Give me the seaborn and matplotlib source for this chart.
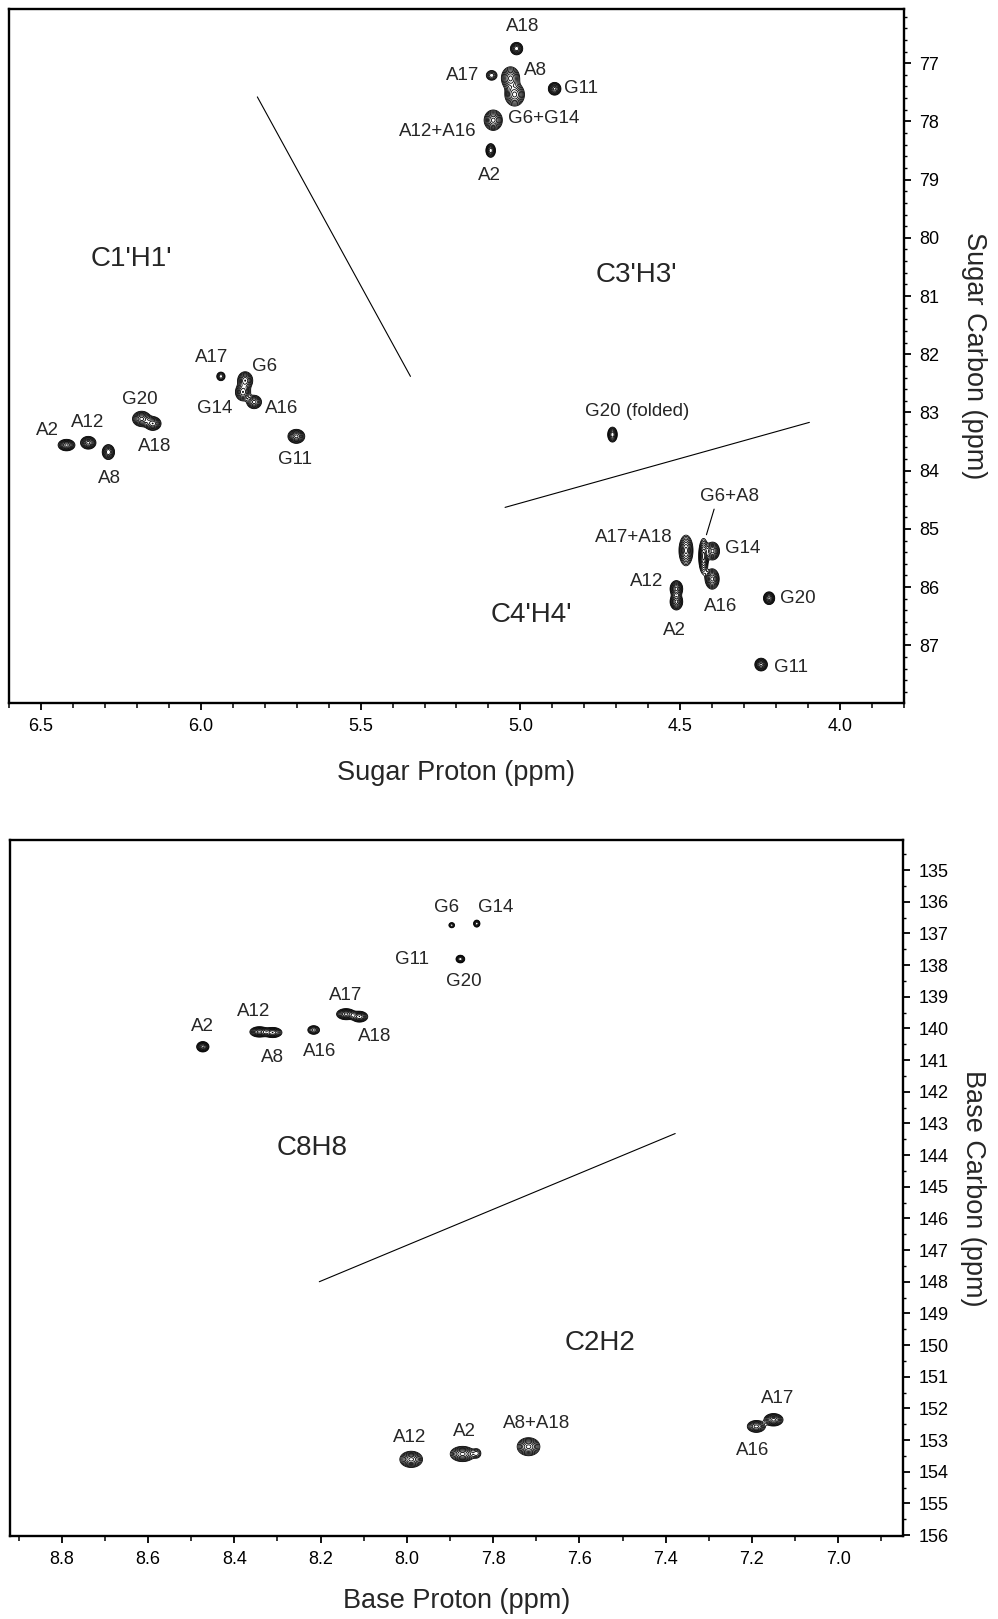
import numpy as np
import matplotlib
matplotlib.use("Agg")
import matplotlib.pyplot as plt
import seaborn as sns
from matplotlib.ticker import MultipleLocator, FormatStrFormatter

# ---------------- Sugar region (top panel) ----------------
sugar_peak_h = [6.420, 6.352, 6.289, 6.185, 6.150, 5.937, 5.861, 5.868, 5.833, 5.701,
                5.012, 5.090, 5.031, 5.018, 4.893, 5.085, 5.093,
                4.712, 4.247, 4.222, 4.512, 4.512, 4.482, 4.427, 4.399, 4.400]
sugar_peak_c = [83.56, 83.52, 83.68, 83.11, 83.19, 82.38, 82.45, 82.65, 82.82, 83.41,
                76.75, 77.21, 77.26, 77.54, 77.44, 77.98, 78.50,
                83.38, 87.33, 86.19, 86.03, 86.25, 85.37, 85.47, 85.38, 85.86]
sugar_peak_amp = [1.0, 1.0, 0.9, 1.0, 0.9, 0.5, 0.9, 0.9, 0.8, 1.0,
                  0.9, 0.5, 1.0, 1.0, 1.0, 1.0, 0.9,
                  0.9, 1.0, 1.0, 1.0, 1.0, 1.0, 1.0, 1.0, 1.0]
sugar_peak_wh = [0.012, 0.011, 0.009, 0.013, 0.012, 0.007, 0.011, 0.011, 0.011, 0.012,
                 0.009, 0.009, 0.013, 0.014, 0.009, 0.013, 0.007,
                 0.007, 0.009, 0.008, 0.009, 0.009, 0.010, 0.007, 0.010, 0.010]
sugar_peak_wc = [0.045, 0.050, 0.060, 0.060, 0.055, 0.040, 0.070, 0.070, 0.055, 0.055,
                 0.050, 0.045, 0.090, 0.090, 0.050, 0.080, 0.055,
                 0.060, 0.050, 0.050, 0.065, 0.065, 0.120, 0.140, 0.070, 0.080]

sugar_labels = ["A2", "A12", "A8", "G20", "A18", "A17", "G6", "G14", "A16", "G11",
                "A18", "A17", "A8", "G11", "G6+G14", "A12+A16", "A2",
                "G20 (folded)", "G6+A8", "A17+A18", "G14", "A12", "A16", "A2", "G20", "G11"]
sugar_label_h = [6.480, 6.355, 6.286, 6.190, 6.143, 5.965, 5.800, 5.955, 5.746, 5.704,
                 4.994, 5.182, 4.952, 4.811, 4.926, 5.260, 5.096,
                 4.634, 4.347, 4.644, 4.305, 4.605, 4.375, 4.519, 4.133, 4.153]
sugar_label_c = [83.31, 83.17, 84.13, 82.77, 83.59, 82.06, 82.21, 82.94, 82.94, 83.81,
                 76.37, 77.22, 77.12, 77.44, 77.95, 78.17, 78.93,
                 82.98, 84.45, 85.14, 85.34, 85.91, 86.34, 86.75, 86.19, 87.38]

sugar_regions = ["C1'H1'", "C3'H3'", "C4'H4'"]
sugar_region_h = [6.218, 4.636, 4.965]
sugar_region_c = [80.36, 80.64, 86.48]

sugar_div1_h = [5.823, 5.344]
sugar_div1_c = [77.58, 82.38]
sugar_div2_h = [5.048, 4.096]
sugar_div2_c = [84.63, 83.17]
sugar_leader_h = [4.394, 4.418]
sugar_leader_c = [84.66, 85.10]

# ---------------- Base region (bottom panel) ----------------
base_peak_h = [8.473, 8.342, 8.311, 8.216, 8.141, 8.110, 7.896, 7.838, 7.876,
               7.990, 7.871, 7.838, 7.718, 7.150, 7.190]
base_peak_c = [140.58, 140.11, 140.13, 140.05, 139.55, 139.63, 136.74, 136.69, 137.81,
               153.61, 153.44, 153.42, 153.21, 152.36, 152.57]
base_peak_amp = [1.0, 1.0, 0.9, 0.6, 1.0, 0.9, 0.35, 0.5, 0.7,
                 1.0, 1.0, 0.3, 1.0, 1.0, 0.8]
base_peak_wh = [0.0065, 0.010, 0.010, 0.007, 0.010, 0.009, 0.004, 0.004, 0.005,
                0.012, 0.013, 0.006, 0.012, 0.010, 0.010]
base_peak_wc = [0.075, 0.075, 0.075, 0.070, 0.080, 0.080, 0.050, 0.060, 0.060,
                0.117, 0.110, 0.090, 0.130, 0.090, 0.090]

base_labels = ["A2", "A12", "A8", "A16", "A17", "A18", "G6", "G14", "G11", "G20",
               "A12", "A2", "A8+A18", "A17", "A16"]
base_label_h = [8.473, 8.356, 8.311, 8.203, 8.143, 8.075, 7.907, 7.795, 7.989, 7.869,
                7.994, 7.867, 7.700, 7.141, 7.198]
base_label_c = [139.95, 139.48, 140.93, 140.74, 138.95, 140.27, 136.19, 136.19, 137.81, 138.53,
                152.92, 152.72, 152.47, 151.68, 153.34]

base_regions = ["C8H8", "C2H2"]
base_region_h = [8.22, 7.552]
base_region_c = [143.78, 149.95]

base_div_h = [8.203, 7.378]
base_div_c = [148.00, 143.32]

# ---------------- style ----------------
sns.set_theme(style="ticks")
plt.rcParams["font.family"] = ["Liberation Sans", "DejaVu Sans"]
plt.rcParams["axes.linewidth"] = 1.7
plt.rcParams["xtick.color"] = "black"
plt.rcParams["ytick.color"] = "black"

fig = plt.figure(figsize=(9.98, 16.19), dpi=100)
fig.patch.set_facecolor("white")

ax1 = fig.add_axes([0.009, 0.56578, 0.8968, 0.42866])
ax2 = fig.add_axes([0.010, 0.05127, 0.8948, 0.42989])

LEVELS = [0.09, 0.13, 0.19, 0.27, 0.38, 0.52, 0.70, 0.90]


def draw_spectrum(ax, hs, cs, amps, whs, wcs, xlim, ylim):
    x = np.linspace(min(xlim), max(xlim), 1400)
    y = np.linspace(min(ylim), max(ylim), 1400)
    X, Y = np.meshgrid(x, y)
    Z = np.zeros_like(X)
    for h, c, a, sx, sy in zip(hs, cs, amps, whs, wcs):
        Z += a * np.exp(-0.5 * (((X - h) / sx) ** 2 + ((Y - c) / sy) ** 2))
    ax.contour(X, Y, Z, levels=LEVELS, colors="black", linewidths=0.6)


def style_axes(ax, xlim, ylim, xmaj, xmin, ymaj, ymin, xfmt, xlabel, ylabel, xpad, ypad):
    ax.set_xlim(*xlim)
    ax.set_ylim(*ylim)
    ax.xaxis.set_major_locator(MultipleLocator(xmaj))
    ax.xaxis.set_minor_locator(MultipleLocator(xmin))
    ax.yaxis.set_major_locator(MultipleLocator(ymaj))
    ax.yaxis.set_minor_locator(MultipleLocator(ymin))
    ax.xaxis.set_major_formatter(FormatStrFormatter(xfmt))
    ax.yaxis.set_major_formatter(FormatStrFormatter("%d"))
    ax.yaxis.tick_right()
    ax.yaxis.set_label_position("right")
    ax.tick_params(axis="x", which="major", direction="out", length=5, width=1.3,
                   labelsize=13, pad=6, bottom=True, top=False)
    ax.tick_params(axis="x", which="minor", direction="out", length=3.5, width=1.1,
                   bottom=True, top=False)
    ax.tick_params(axis="y", which="major", direction="out", length=5, width=1.3,
                   labelsize=13, pad=6, right=True, left=False)
    ax.tick_params(axis="y", which="minor", direction="out", length=2.5, width=1.0,
                   right=True, left=False)
    for s in ax.spines.values():
        s.set_visible(True)
        s.set_linewidth(1.7)
        s.set_color("black")
    ax.set_xlabel(xlabel, fontsize=19.5, labelpad=xpad)
    ax.set_ylabel(ylabel, fontsize=19.5, rotation=270, labelpad=ypad)
    ax.set_facecolor("white")
    ax.grid(False)


# ---------------- top panel ----------------
xlim1 = (6.6, 3.8)
ylim1 = (87.99, 76.07)
draw_spectrum(ax1, sugar_peak_h, sugar_peak_c, sugar_peak_amp, sugar_peak_wh, sugar_peak_wc,
              xlim1, ylim1)
for hh, cc in [(sugar_div1_h, sugar_div1_c), (sugar_div2_h, sugar_div2_c),
               (sugar_leader_h, sugar_leader_c)]:
    sns.lineplot(x=hh, y=cc, ax=ax1, color="black", linewidth=0.8, sort=False,
                 estimator=None, legend=False)
for t, h, c in zip(sugar_labels, sugar_label_h, sugar_label_c):
    ax1.text(h, c, t, ha="center", va="center", fontsize=13.5)
for t, h, c in zip(sugar_regions, sugar_region_h, sugar_region_c):
    ax1.text(h, c, t, ha="center", va="center", fontsize=20)
style_axes(ax1, xlim1, ylim1, 0.5, 0.1, 1, 0.2, "%.1f",
           "Sugar Proton (ppm)", "Sugar Carbon (ppm)", 18, 34)

# ---------------- bottom panel ----------------
xlim2 = (8.92, 6.85)
ylim2 = (156.03, 134.05)
draw_spectrum(ax2, base_peak_h, base_peak_c, base_peak_amp, base_peak_wh, base_peak_wc,
              xlim2, ylim2)
sns.lineplot(x=base_div_h, y=base_div_c, ax=ax2, color="black", linewidth=0.8, sort=False,
             estimator=None, legend=False)
for t, h, c in zip(base_labels, base_label_h, base_label_c):
    ax2.text(h, c, t, ha="center", va="center", fontsize=13.5)
for t, h, c in zip(base_regions, base_region_h, base_region_c):
    ax2.text(h, c, t, ha="center", va="center", fontsize=20)
style_axes(ax2, xlim2, ylim2, 0.2, 0.1, 1, 0.5, "%.1f",
           "Base Proton (ppm)", "Base Carbon (ppm)", 14, 27)

fig.savefig("out.png", dpi=100, facecolor="white")
